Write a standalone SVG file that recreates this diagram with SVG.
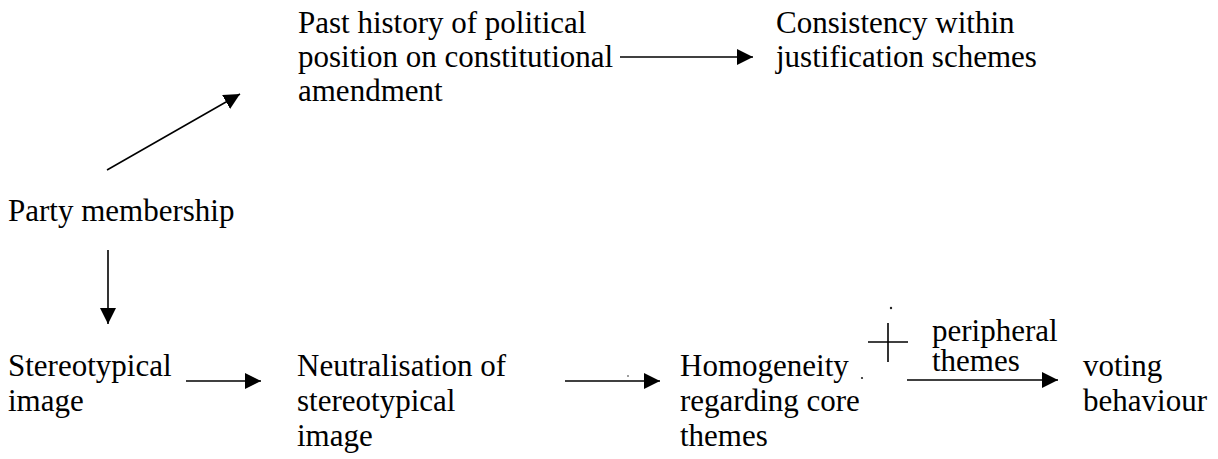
<svg xmlns="http://www.w3.org/2000/svg" width="1218" height="459" viewBox="0 0 1218 459">
  <style>
    text { font-family: "Liberation Serif", "Times New Roman", serif; font-size: 31px; fill: #000; }
    .edge { stroke: #000; stroke-width: 1.6; fill: none; }
    .speck { fill: #222; }
  </style>
  <defs>
    <marker id="arrow" markerUnits="userSpaceOnUse" markerWidth="18" markerHeight="16" refX="16" refY="8" orient="auto">
      <path d="M0,0 L16,8 L0,16 Z" fill="#000"/>
    </marker>
  </defs>
  <rect width="1218" height="459" fill="#fff"/>

  <g id="node-party">
    <text x="8" y="221">Party membership</text>
  </g>
  <g id="node-history">
    <text x="298" y="33">Past history of political</text>
    <text x="298" y="67">position on constitutional</text>
    <text x="298" y="101">amendment</text>
  </g>
  <g id="node-consistency">
    <text x="776" y="33">Consistency within</text>
    <text x="776" y="67">justification schemes</text>
  </g>
  <g id="node-stereotype">
    <text x="8" y="376">Stereotypical</text>
    <text x="8" y="411">image</text>
  </g>
  <g id="node-neutralisation">
    <text x="297" y="376">Neutralisation of</text>
    <text x="297" y="411">stereotypical</text>
    <text x="297" y="446">image</text>
  </g>
  <g id="node-homogeneity">
    <text x="680" y="376">Homogeneity</text>
    <text x="680" y="411">regarding core</text>
    <text x="680" y="446">themes</text>
  </g>
  <g id="node-peripheral">
    <text x="932" y="341">peripheral</text>
    <text x="932" y="371">themes</text>
  </g>
  <g id="node-voting">
    <text x="1083" y="376">voting</text>
    <text x="1083" y="411">behaviour</text>
  </g>

  <g id="connectors">
    <line class="edge" x1="107" y1="170" x2="240" y2="94" marker-end="url(#arrow)"/>
    <line class="edge" x1="108" y1="250" x2="108" y2="324" marker-end="url(#arrow)"/>
    <line class="edge" x1="620" y1="57" x2="753" y2="57" marker-end="url(#arrow)"/>
    <line class="edge" x1="186" y1="381" x2="261" y2="381" marker-end="url(#arrow)"/>
    <line class="edge" x1="565" y1="381" x2="660" y2="381" marker-end="url(#arrow)"/>
    <line class="edge" x1="907" y1="380" x2="1058" y2="380" marker-end="url(#arrow)"/>
    <!-- plus sign between core and peripheral themes -->
    <line class="edge" x1="868" y1="342" x2="908" y2="342"/>
    <line class="edge" x1="888" y1="323" x2="888" y2="362"/>
  </g>

  <!-- small stray marks -->
  <circle class="speck" cx="891" cy="308" r="1.2"/>
  <circle class="speck" cx="862" cy="378" r="1.1"/>
  <circle class="speck" cx="628" cy="376" r="0.8"/>
</svg>
